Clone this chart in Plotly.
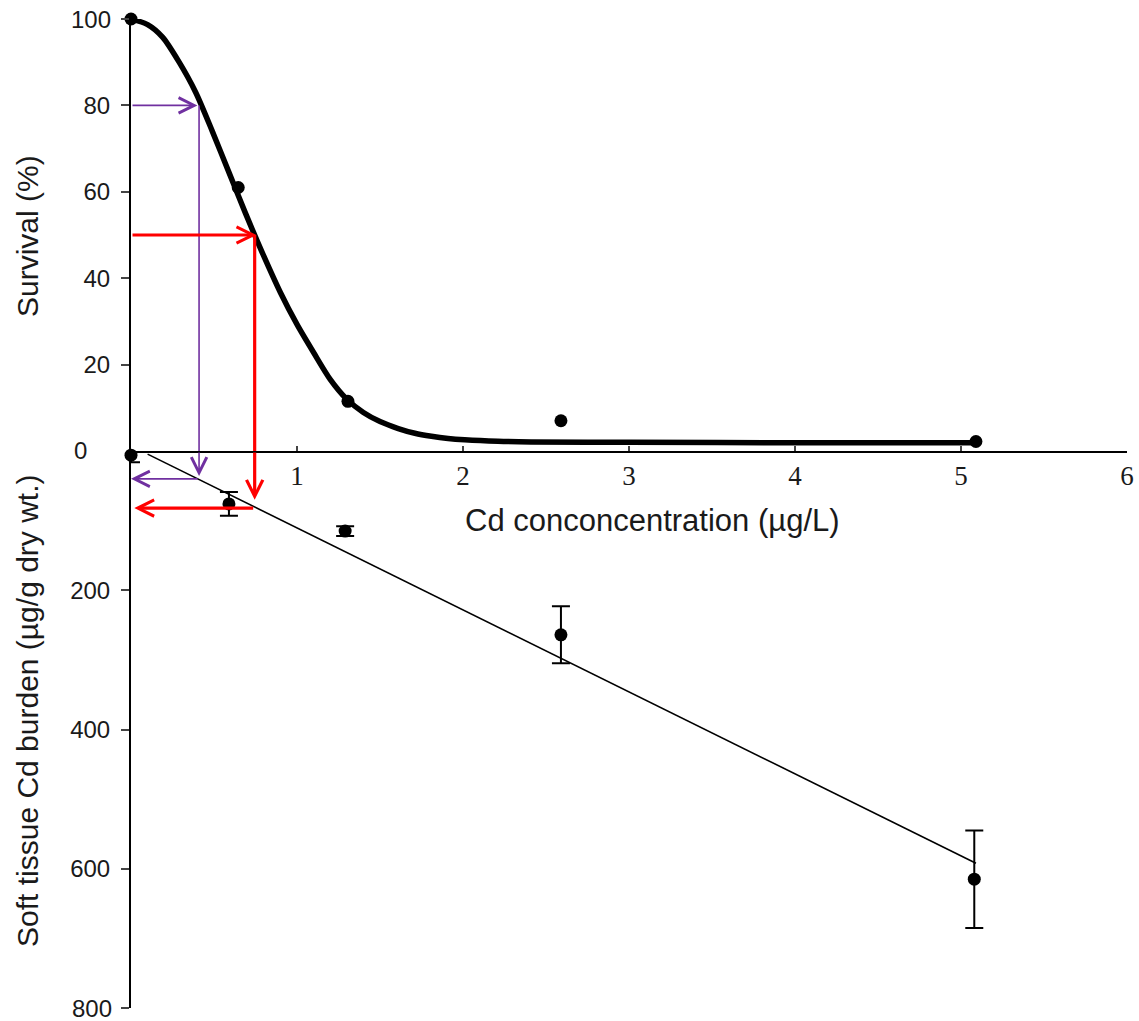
import plotly.graph_objects as go

# ---- data ----
surv_x = [0, 0.646, 1.307, 2.59, 5.09]
surv_y = [100, 61, 11.5, 7, 2.2]

curve_x = [0, 0.1, 0.19, 0.29, 0.39, 0.49, 0.59, 0.69, 0.79, 0.90, 1.0, 1.10, 1.20, 1.30, 1.40, 1.50,
           1.61, 1.71, 1.81, 1.91, 2.01, 2.21, 2.41, 3.0, 4.0, 5.1]
curve_y = [100, 98.7, 95.8, 90, 83, 74, 64.5, 55, 46, 36.7, 29.3, 22.8, 16.6, 12, 8.9, 6.8,
           5.2, 4.1, 3.4, 2.9, 2.6, 2.25, 2.1, 2.0, 1.9, 1.9]

burden_x = [0, 0.59, 1.29, 2.59, 5.08]
burden_y = [6, 76, 115, 264, 615]
burden_err = [10, 17, 7, 41, 70]

reg_x = [0.10, 5.09]
reg_y = [4.5, 592]

lc20_x, lc20_surv, lc20_burden = 0.41, 80, 40
lc50_x, lc50_surv, lc50_burden = 0.745, 50, 82
lc50_tip_burden = 70
lc20_tip_burden = 36

surv_ticks = [20, 40, 60, 80, 100]
surv_ticktext = ["20", "40", "60", "80", ""]
burden_ticks = [200, 400, 600, 800]
burden_ticktext = ["200", "400", "600", ""]
x_ticks = [1, 2, 3, 4, 5, 6]

PURPLE = "#7030A0"
RED = "#FF0000"
SANS = "Liberation Sans, Arial, sans-serif"
SERIF = "Liberation Serif, Times New Roman, serif"
TXT = "#1a1a1a"

W, H = 1139, 1021
ML, MR, MT, MB = 131, 12, 19, 13
PW, PH = W - ML - MR, H - MT - MB
split = (1008 - 451) / PH

fig = go.Figure()

# fitted survival curve
fig.add_trace(go.Scatter(x=curve_x, y=curve_y, mode="lines",
                         line=dict(color="black", width=5.5, shape="spline", smoothing=0.8),
                         xaxis="x", yaxis="y", showlegend=False, hoverinfo="skip"))
fig.add_trace(go.Scatter(x=surv_x, y=surv_y, mode="markers", marker=dict(color="black", size=13),
                         xaxis="x", yaxis="y", showlegend=False, cliponaxis=False))

# burden regression and points
fig.add_trace(go.Scatter(x=reg_x, y=reg_y, mode="lines", line=dict(color="black", width=1.6),
                         xaxis="x", yaxis="y2", showlegend=False))
fig.add_trace(go.Scatter(x=burden_x, y=burden_y, mode="markers", marker=dict(color="black", size=13),
                         error_y=dict(type="data", array=burden_err, color="black", thickness=2, width=9),
                         xaxis="x", yaxis="y2", showlegend=False, cliponaxis=False))

# top part vertical lines (survival panel)
fig.add_shape(type="line", xref="x", yref="y", x0=lc20_x, x1=lc20_x, y0=lc20_surv, y1=0,
              line=dict(color=PURPLE, width=1.6))
fig.add_shape(type="line", xref="x", yref="y", x0=lc50_x, x1=lc50_x, y0=lc50_surv, y1=0,
              line=dict(color=RED, width=3.2))

def arrow(x, y, ax, ay, yref, color, width, size):
    fig.add_annotation(x=x, y=y, ax=ax, ay=ay, xref="x", yref=yref, axref="x", ayref=yref,
                       text="", showarrow=True, arrowhead=5, arrowsize=size, arrowwidth=width,
                       arrowcolor=color, standoff=0, startstandoff=0)

# horizontal arrows to curve
arrow(lc20_x - 0.01, lc20_surv, 0, lc20_surv, "y", PURPLE, 1.6, 1.9)
arrow(lc50_x + 0.01, lc50_surv, 0, lc50_surv, "y", RED, 3.2, 1.0)
# vertical arrows down into burden panel
arrow(lc20_x, lc20_tip_burden, lc20_x, 0, "y2", PURPLE, 1.6, 1.9)
arrow(lc50_x, lc50_tip_burden, lc50_x, 0, "y2", RED, 3.2, 1.0)
# horizontal arrows to burden axis
arrow(0.0, lc20_burden, lc20_x, lc20_burden, "y2", PURPLE, 1.6, 1.9)
arrow(0.02, lc50_burden, lc50_x, lc50_burden, "y2", RED, 3.2, 1.0)

def px(xp):
    return (xp - ML) / PW

def py(yp):
    return (1008 - yp) / PH

def label(text, x, y, size, angle=0, xanchor="center"):
    fig.add_annotation(text=text, xref="paper", yref="paper", x=px(x), y=py(y), textangle=angle,
                       xanchor=xanchor, yanchor="middle", showarrow=False,
                       font=dict(family=SANS, size=size, color=TXT))

# titles
label("Survival (%)", 27, 236, 30, -90)
label("Soft tissue Cd burden (µg/g dry wt.)", 27, 711, 30, -90)
label("Cd conconcentration (µg/L)", 652, 520, 31)
label("0", 80, 451, 24)
# edge tick labels
label("100", 113, 19, 24, xanchor="right")
label("800", 114, 1008, 24, xanchor="right")

fig.update_layout(
    width=W, height=H, margin=dict(l=ML, r=MR, t=MT, b=MB, autoexpand=False),
    paper_bgcolor="white", plot_bgcolor="white", showlegend=False,
    xaxis=dict(range=[0, 6], anchor="y", tickvals=x_ticks, ticks="inside", ticklen=5, tickwidth=2,
               showline=True, linecolor="black", linewidth=2, showgrid=False, zeroline=False,
               automargin=False, tickfont=dict(family=SERIF, size=27, color=TXT)),
    yaxis=dict(domain=[split, 1], range=[0, 100], anchor="x", tickvals=surv_ticks, ticktext=surv_ticktext,
               ticks="outside", ticklen=8, tickwidth=2, showline=True, linecolor="black", linewidth=2,
               showgrid=False, zeroline=False, automargin=False, ticklabelstandoff=6,
               tickfont=dict(family=SANS, size=24, color=TXT)),
    yaxis2=dict(domain=[0, split], range=[800, 0], anchor="x", tickvals=burden_ticks,
                ticktext=burden_ticktext, ticks="outside", ticklen=8, tickwidth=2, showline=True,
                linecolor="black", linewidth=2, showgrid=False, zeroline=False, automargin=False,
                ticklabelstandoff=6, tickfont=dict(family=SANS, size=24, color=TXT)),
)

fig.write_html("out.html", config={"displayModeBar": False},
               post_script="document.body.style.margin='0';document.body.style.overflow='hidden';")
